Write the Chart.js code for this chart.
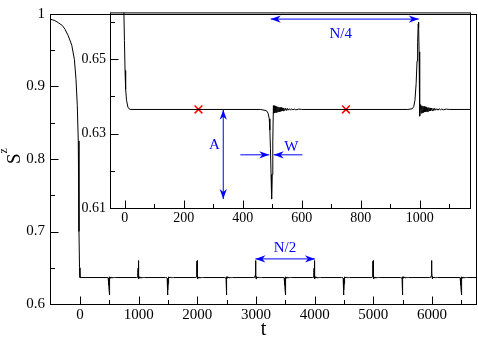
<!DOCTYPE html>
<html>
<head>
<meta charset="utf-8">
<script src="https://cdn.jsdelivr.net/npm/chart.js@4/dist/chart.umd.min.js"></script>
<style>
  html, body { margin: 0; padding: 0; background: #fff; }
  #wrap { position: relative; width: 478px; height: 338px; }
  #main { position: absolute; left: 0; top: 0; }
  #inset { position: absolute; left: 70px; top: 0; }
</style>
</head>
<body>
<div id="wrap">
  <canvas id="main" width="478" height="338"></canvas>
  <canvas id="inset" width="408" height="232"></canvas>
</div>
<script>
// values
var base = 0.6365;

// main panel: initial relaxation
var decayT = [-511, -430, -370, -300, -255, -200, -140, -95, -68, -46, -29, -17, -8, 0];
var decayS = [0.993, 0.991, 0.988, 0.984, 0.979, 0.970, 0.957, 0.937, 0.910, 0.874, 0.825, 0.700, 0.650, 0.6365];

// inset: same relaxation, resolved finer
var insetDecayT = [-50, -10, -5, -3, -1, 1, 3, 6, 11, 18];
var insetDecayS = [0.95, 0.70, 0.672, 0.663, 0.655, 0.647, 0.642, 0.639, 0.637, 0.6365];

// shape of a dip and of a peak (offset from the kick time)
var dipDT = [-40, -20, -14, -10, -8, -6, -4, -2, 0, 2, 4];
var dipS  = [0.6365, 0.6362, 0.6355, 0.634, 0.631, 0.626, 0.619, 0.6124, 0.619, 0.628, 0.6375];
var peakDT = [-40, -25, -20, -16, -12, -9, -7, -5, -4, -3, -2, -1, 0, 1, 3];
var peakS  = [0.6365, 0.6367, 0.6373, 0.639, 0.6435, 0.6495, 0.6545, 0.6595, 0.660, 0.6585, 0.652, 0.644, 0.6375, 0.6347, 0.6378];
// ringing after each kick
var ringDT = [5, 7, 9, 11, 13, 15, 17, 19, 21, 23, 25, 27, 29, 31, 33, 35, 37, 39, 42, 45, 48, 51, 54, 58, 62, 66, 70, 75, 80, 90, 100];
var ringV  = [-0.0010, 0.0010, -0.0009, 0.0009, -0.0008, 0.0008, -0.0007, 0.0007, -0.0006, 0.0006,
              -0.0006, 0.0005, -0.0005, 0.0005, -0.0004, 0.0004, -0.0004, 0.0004, -0.0003, 0.0003,
              -0.0003, 0.0003, -0.0002, 0.0002, -0.0002, 0.0002, -0.0001, 0.0001, -0.0001, 0.0001, 0];

var spikeT    = [500, 1000, 1500, 2000, 2500, 3000, 3500, 4000, 4500, 5000, 5500, 6000, 6500];
var spikeKind = ['dip', 'peak', 'dip', 'peak', 'dip', 'peak', 'dip', 'peak', 'dip', 'peak', 'dip', 'peak', 'dip'];

var crossT = [250, 750];
var crossS = [0.6365, 0.6365];

// ticks
var mainXTicks = [0, 1000, 2000, 3000, 4000, 5000, 6000];
var mainXLabels = ['0', '1000', '2000', '3000', '4000', '5000', '6000'];
var mainXMinor = [500, 1500, 2500, 3500, 4500, 5500, 6500];
var mainYTicks = [0.6, 0.7, 0.8, 0.9, 1];
var mainYLabels = ['0.6', '0.7', '0.8', '0.9', '1'];
var mainYMinor = [0.65, 0.75, 0.85, 0.95];
var insetXTicks = [0, 200, 400, 600, 800, 1000];
var insetXLabels = ['0', '200', '400', '600', '800', '1000'];
var insetXMinor = [100, 300, 500, 700, 900, 1100];
var insetYTicks = [0.61, 0.63, 0.65];
var insetYLabels = ['0.61', '0.63', '0.65'];
var insetYMinor = [0.62, 0.64, 0.66];

// annotations (data coordinates)
var arrowN4 = [495, 997, 0.6608];
var arrowA = [334, 0.6364, 0.6124];
var arrowWL = [392, 490, 0.6243];
var arrowWR = [602, 505, 0.6243];
var arrowN2 = [2990, 4005, 0.6622];
var textN4 = [732, 0.6569];
var textA = [304, 0.627];
var textW = [565, 0.6264];
var textN2 = [3494, 0.677];

var FONT = '"Liberation Serif", "Times New Roman", serif';
Chart.defaults.font.family = FONT;

function addKick(pts, t0, kind) {
  var dt = kind == 'dip' ? dipDT : peakDT;
  var s = kind == 'dip' ? dipS : peakS;
  for (var i = 0; i < dt.length; i++) pts.push({x: t0 + dt[i], y: s[i]});
  for (var j = 0; j < ringDT.length; j++) pts.push({x: t0 + ringDT[j], y: base + ringV[j]});
}

var mainPts = [];
for (var i = 0; i < decayT.length; i++) mainPts.push({x: decayT[i], y: decayS[i]});
for (var k = 0; k < spikeT.length; k++) addKick(mainPts, spikeT[k], spikeKind[k]);
mainPts.push({x: 6767, y: base});

var insetPts = [];
for (var i = 0; i < insetDecayT.length; i++) insetPts.push({x: insetDecayT[i], y: insetDecayS[i]});
addKick(insetPts, 500, 'dip');
addKick(insetPts, 1000, 'peak');
insetPts.push({x: 1180, y: base});

var crossPts = crossT.map(function (t, i) { return {x: t, y: crossS[i]}; });

function head(ctx, x, y, ang) {
  var L = 10, w = 3.6;
  var c = Math.cos(ang), s = Math.sin(ang);
  ctx.beginPath();
  ctx.moveTo(x, y);
  ctx.lineTo(x - L * c - w * s, y - L * s + w * c);
  ctx.lineTo(x - 0.7 * L * c, y - 0.7 * L * s);
  ctx.lineTo(x - L * c + w * s, y - L * s - w * c);
  ctx.closePath();
  ctx.fill();
}

function arrow(ctx, x1, y1, x2, y2, both) {
  ctx.beginPath();
  ctx.moveTo(x1, y1);
  ctx.lineTo(x2, y2);
  ctx.stroke();
  var ang = Math.atan2(y2 - y1, x2 - x1);
  head(ctx, x2, y2, ang);
  if (both) head(ctx, x1, y1, ang + Math.PI);
}

// frame, inward ticks, blue arrows and labels
var framePlugin = {
  id: 'frame',
  afterDatasetsDraw: function (chart, args, o) {
    var ctx = chart.ctx, a = chart.chartArea, sx = chart.scales.x, sy = chart.scales.y;
    ctx.save();
    ctx.strokeStyle = '#000';
    ctx.lineWidth = 1;
    ctx.strokeRect(a.left + 0.5, a.top + 0.5, a.right - a.left - 1, a.bottom - a.top);
    function xt(vals, len) {
      vals.forEach(function (v) {
        var p = Math.round(sx.getPixelForValue(v)) + 0.5;
        ctx.beginPath(); ctx.moveTo(p, a.bottom + 0.5); ctx.lineTo(p, a.bottom + 0.5 - len); ctx.stroke();
      });
    }
    function yt(vals, len) {
      vals.forEach(function (v) {
        var p = Math.round(sy.getPixelForValue(v)) + 0.5;
        ctx.beginPath(); ctx.moveTo(a.left + 0.5, p); ctx.lineTo(a.left + 0.5 + len, p); ctx.stroke();
      });
    }
    xt(o.xMajor, 8); xt(o.xMinor, 4.5);
    yt(o.yMajor, 8); yt(o.yMinor, 4.5);

    ctx.strokeStyle = '#0000ff';
    ctx.fillStyle = '#0000ff';
    (o.hArrows || []).forEach(function (r) {
      var y = sy.getPixelForValue(r[2]);
      arrow(ctx, sx.getPixelForValue(r[0]), y, sx.getPixelForValue(r[1]), y, r[3]);
    });
    (o.vArrows || []).forEach(function (r) {
      var x = sx.getPixelForValue(r[0]);
      arrow(ctx, x, sy.getPixelForValue(r[1]), x, sy.getPixelForValue(r[2]), true);
    });
    ctx.font = '15px ' + FONT;
    ctx.textAlign = 'center';
    ctx.textBaseline = 'middle';
    (o.texts || []).forEach(function (r) {
      ctx.fillText(r[2], sx.getPixelForValue(r[0]), sy.getPixelForValue(r[1]));
    });

    if (o.titles) {
      ctx.fillStyle = '#000';
      ctx.font = '20px ' + FONT;
      ctx.textBaseline = 'alphabetic';
      ctx.fillText('t', (a.left + a.right) / 2, 335);
      ctx.save();
      ctx.translate(19.5, 164);
      ctx.rotate(-Math.PI / 2);
      ctx.textAlign = 'left';
      ctx.font = '19px ' + FONT;
      ctx.fillText('S', 0, 0);
      ctx.font = '12px ' + FONT;
      ctx.fillText('z', 10.5, -13);
      ctx.restore();
    }
    ctx.restore();
  }
};

function axis(min, max, ticks, labels, size, isX, fontSize, pad) {
  return {
    type: 'linear', min: min, max: max,
    grid: { display: false, drawTicks: false },
    border: { display: false },
    ticks: {
      color: '#000', padding: pad, autoSkip: false, maxRotation: 0,
      font: { family: FONT, size: fontSize },
      callback: function (v, i) { return labels[i]; }
    },
    afterBuildTicks: function (s) { s.ticks = ticks.map(function (v) { return {value: v}; }); },
    afterFit: function (s) { if (isX) s.height = size; else s.width = size; }
  };
}

new Chart(document.getElementById('main'), {
  type: 'scatter',
  data: { datasets: [{ data: mainPts, showLine: true, borderColor: '#000', borderWidth: 1, pointRadius: 0 }] },
  options: {
    responsive: false, animation: false, events: [],
    layout: { padding: { top: 6, right: 1, left: 0, bottom: 0 } },
    scales: {
      x: axis(-511, 6767, mainXTicks, mainXLabels, 34, true, 15, 2),
      y: axis(0.6, 1.0, mainYTicks, mainYLabels, 50, false, 15, 5)
    },
    plugins: {
      legend: { display: false }, tooltip: { enabled: false },
      frame: {
        xMajor: mainXTicks, xMinor: mainXMinor, yMajor: mainYTicks, yMinor: mainYMinor,
        hArrows: [[arrowN2[0], arrowN2[1], arrowN2[2], true]],
        texts: [[textN2[0], textN2[1], 'N/2']],
        titles: true
      }
    }
  },
  plugins: [framePlugin]
});

new Chart(document.getElementById('inset'), {
  type: 'scatter',
  data: { datasets: [
    { data: insetPts, showLine: true, borderColor: '#000', borderWidth: 1, pointRadius: 0 },
    { data: crossPts, showLine: false, pointStyle: 'crossRot', pointRadius: 5.5, borderColor: '#ff0000', borderWidth: 1.5 }
  ] },
  options: {
    responsive: false, animation: false, events: [],
    layout: { padding: { top: 6, right: 1, left: 0, bottom: 0 } },
    scales: {
      x: axis(-50, 1174, insetXTicks, insetXLabels, 24, true, 14, 2),
      y: axis(0.61, 0.6626, insetYTicks, insetYLabels, 40, false, 14, 4)
    },
    plugins: {
      legend: { display: false }, tooltip: { enabled: false },
      frame: {
        xMajor: insetXTicks, xMinor: insetXMinor, yMajor: insetYTicks, yMinor: insetYMinor,
        hArrows: [[arrowN4[0], arrowN4[1], arrowN4[2], true], [arrowWL[0], arrowWL[1], arrowWL[2], false], [arrowWR[0], arrowWR[1], arrowWR[2], false]],
        vArrows: [arrowA],
        texts: [[textN4[0], textN4[1], 'N/4'], [textA[0], textA[1], 'A'], [textW[0], textW[1], 'W']]
      }
    }
  },
  plugins: [framePlugin]
});
</script>
</body>
</html>
